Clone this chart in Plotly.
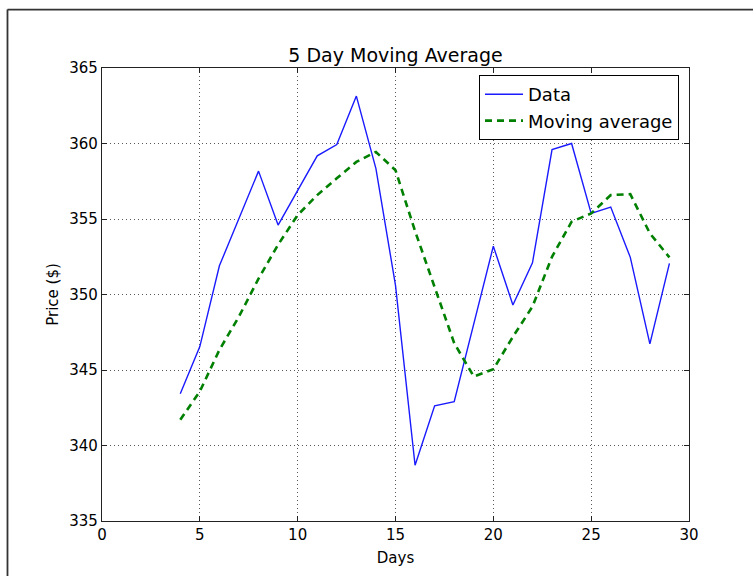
import plotly.graph_objects as go

# Daily closing prices and their 5-day moving average
days = list(range(4, 30))
price = [343.43, 346.55, 351.90, 355.00, 358.17, 354.60, 356.90, 359.18,
         359.93, 363.14, 358.34, 350.60, 338.69, 342.63, 342.90, 348.00,
         353.20, 349.31, 352.10, 359.60, 360.00, 355.37, 355.79, 352.46,
         346.73, 352.06]
moving_avg = [341.70, 343.58, 346.33, 348.54, 351.05, 353.30, 355.26, 356.58,
              357.70, 358.78, 359.44, 358.23, 354.20, 350.52, 346.78, 344.57,
              345.05, 347.20, 349.20, 352.50, 354.82, 355.37, 356.58, 356.65,
              354.05, 352.46]

x_ticks = [0, 5, 10, 15, 20, 25, 30]
y_ticks = [335, 340, 345, 350, 355, 360, 365]

FONT = "DejaVu Sans"

fig = go.Figure()
fig.add_trace(go.Scatter(
    x=days, y=price, mode="lines", name="Data",
    line=dict(color="#1a1aff", width=1.4),
))
fig.add_trace(go.Scatter(
    x=days, y=moving_avg, mode="lines", name="Moving average",
    line=dict(color="#008000", width=2.6, dash="7px,5px"),
))

axis_common = dict(
    showline=True, linecolor="#222222", linewidth=1.3, mirror="allticks",
    ticks="inside", ticklen=5, tickwidth=1, tickcolor="#222222",
    showgrid=True, gridcolor="rgba(0,0,0,0.65)", gridwidth=1, griddash="1px,3px",
    zeroline=False, tickfont=dict(family=FONT, size=15, color="black"),
)

fig.update_xaxes(
    range=[0, 30], tickvals=x_ticks, ticktext=[str(v) for v in x_ticks],
    title=dict(text="Days", font=dict(family=FONT, size=15, color="black"), standoff=9),
    **axis_common,
)
fig.update_yaxes(
    range=[335, 365], tickvals=y_ticks, ticktext=[str(v) for v in y_ticks],
    title=dict(text="Price ($)", font=dict(family=FONT, size=15, color="black"), standoff=6),
    **axis_common,
)

# window-style frame along the top and left edges
fig.add_shape(type="line", xref="paper", yref="paper",
              x0=-0.161, x1=1.2, y0=1.129, y1=1.129,
              line=dict(color="#333333", width=1.8))
fig.add_shape(type="line", xref="paper", yref="paper",
              x0=-0.161, x1=-0.161, y0=1.129, y1=-0.2,
              line=dict(color="#333333", width=1.8))

fig.update_layout(
    width=753, height=576,
    margin=dict(l=102, r=64, t=68, b=55),
    paper_bgcolor="white", plot_bgcolor="white",
    title=dict(text="5 Day Moving Average", x=0.5, xanchor="center",
               xref="paper", y=1 - 55 / 576, yanchor="middle",
               font=dict(family=FONT, size=19, color="black")),
    legend=dict(x=1 - 10 / 587, y=1 - 7 / 453, xanchor="right", yanchor="top",
                bordercolor="black", borderwidth=1, bgcolor="white",
                font=dict(family=FONT, size=18, color="black"),
                itemwidth=38, tracegroupgap=0),
    showlegend=True,
)

fig.write_html("out.html")
